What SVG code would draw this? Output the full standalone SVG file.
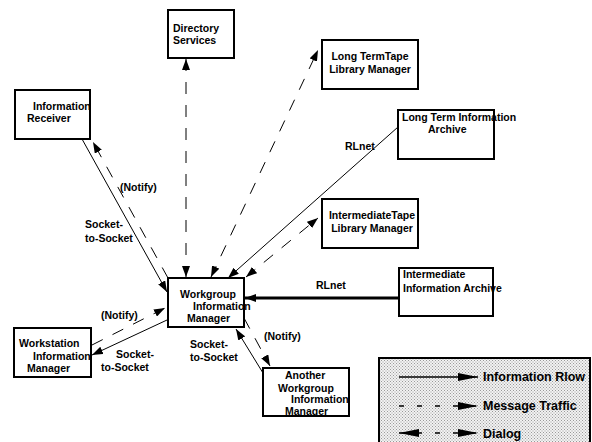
<svg xmlns="http://www.w3.org/2000/svg" width="592" height="442" viewBox="0 0 592 442">
<defs>
<style>
.box{fill:#fff;stroke:#000;stroke-width:2}
.t{font-family:"Liberation Sans",Arial,sans-serif;font-weight:bold;font-size:10.5px;fill:#000}
.lg{font-family:"Liberation Sans",Arial,sans-serif;font-weight:bold;font-size:12.5px;fill:#000}
.info{fill:none;stroke:#000;stroke-width:1;marker-end:url(#ah)}
.thick{fill:none;stroke:#000;stroke-width:3;marker-end:url(#ah)}
.msg{fill:none;stroke:#000;stroke-width:1;stroke-dasharray:12 11;marker-end:url(#ah)}
.dlg{fill:none;stroke:#000;stroke-width:1;stroke-dasharray:12 11;marker-start:url(#ah);marker-end:url(#ah)}
</style>
<marker id="ah" markerUnits="userSpaceOnUse" markerWidth="11" markerHeight="8" refX="11" refY="4" orient="auto-start-reverse">
<path d="M0,0 L11,4 L0,8 z" fill="#000"/>
</marker>
<marker id="big" markerUnits="userSpaceOnUse" markerWidth="20" markerHeight="8" refX="20" refY="4" orient="auto-start-reverse">
<path d="M0,0 L20,4 L0,8 z" fill="#000"/>
</marker>
<pattern id="stip" width="3" height="3" patternUnits="userSpaceOnUse">
<rect width="3" height="3" fill="#f2f2f2"/>
<rect x="0" y="0" width="1" height="1" fill="#9a9a9a"/>
<rect x="1.5" y="1.5" width="1" height="1" fill="#9a9a9a"/>
</pattern>
</defs>
<rect width="592" height="442" fill="#fff"/>

<g id="connectors">
<path class="dlg" d="M186,59 L186,277"/>
<path class="dlg" d="M211,277 L318,50"/>
<path class="info" d="M398,127 L228,278"/>
<path class="dlg" d="M246,277 L318,218"/>
<path class="thick" d="M399,298 L245,298"/>
<path class="info" d="M82,139 L167,292"/>
<path class="msg" d="M168,278 L93,142"/>
<path class="info" d="M167,320 L92,355"/>
<path class="msg" d="M92,345 L165,308"/>
<path class="info" d="M263,373 L236,329"/>
<path class="msg" d="M244,318 L270,366"/>
<text class="t" x="120" y="191">(Notify)</text>
<text class="t" x="85" y="228">Socket-</text>
<text class="t" x="85" y="242">to-Socket</text>
<text class="t" x="345" y="150">RLnet</text>
<text class="t" x="316" y="289">RLnet</text>
<text class="t" x="101" y="319">(Notify)</text>
<text class="t" x="116" y="358">Socket-</text>
<text class="t" x="101" y="371">to-Socket</text>
<text class="t" x="190" y="348">Socket-</text>
<text class="t" x="190" y="361">to-Socket</text>
<text class="t" x="264" y="340">(Notify)</text>
</g>

<g id="directory">
<rect class="box" x="168" y="10" width="66" height="48"/>
<text class="t" x="173" y="32">Directory</text>
<text class="t" x="173" y="44">Services</text>
</g>

<g id="lt-tape">
<rect class="box" x="322" y="40" width="96" height="49"/>
<text class="t" x="370" y="60" text-anchor="middle">Long TermTape</text>
<text class="t" x="370" y="73" text-anchor="middle">Library Manager</text>
</g>

<g id="info-receiver">
<rect class="box" x="15" y="90" width="75" height="49"/>
<text class="t" x="33" y="110">Information</text>
<text class="t" x="27" y="122">Receiver</text>
</g>

<g id="lt-archive">
<rect class="box" x="398" y="110" width="96" height="49"/>
<text class="t" x="402" y="121">Long Term Information</text>
<text class="t" x="428" y="133">Archive</text>
</g>

<g id="int-tape">
<rect class="box" x="322" y="199" width="96" height="49"/>
<text class="t" x="372" y="219" text-anchor="middle">IntermediateTape</text>
<text class="t" x="372" y="232" text-anchor="middle">Library Manager</text>
</g>

<g id="int-archive">
<rect class="box" x="399" y="268" width="94" height="48"/>
<text class="t" x="403" y="278">Intermediate</text>
<text class="t" x="403" y="292">Information Archive</text>
</g>

<g id="workgroup">
<rect class="box" x="168" y="278" width="76" height="49"/>
<text class="t" x="180" y="298">Workgroup</text>
<text class="t" x="193" y="310">Information</text>
<text class="t" x="187" y="322">Manager</text>
</g>

<g id="workstation">
<rect class="box" x="14" y="328" width="77" height="49"/>
<text class="t" x="19" y="347">Workstation</text>
<text class="t" x="33" y="360">Information</text>
<text class="t" x="27" y="372">Manager</text>
</g>

<g id="another">
<rect class="box" x="263" y="368" width="86" height="48"/>
<text class="t" x="285" y="379">Another</text>
<text class="t" x="278" y="392">Workgroup</text>
<text class="t" x="291" y="403">Information</text>
<text class="t" x="285" y="415">Manager</text>
</g>

<g id="legend">
<rect x="379" y="358" width="211" height="95" fill="url(#stip)" stroke="#000" stroke-width="2"/>
<path d="M399,377 L478,377" stroke="#000" stroke-width="1.5" fill="none" marker-end="url(#big)"/>
<path d="M399,406 L478,406" stroke="#000" stroke-width="1.5" stroke-dasharray="5 13" fill="none" marker-end="url(#big)"/>
<path d="M399,433 L478,433" stroke="#000" stroke-width="1.5" stroke-dasharray="5 13" fill="none" marker-start="url(#big)" marker-end="url(#big)"/>
<text class="lg" x="483" y="381">Information Rlow</text>
<text class="lg" x="483" y="410">Message Traffic</text>
<text class="lg" x="483" y="438">Dialog</text>
</g>
</svg>
